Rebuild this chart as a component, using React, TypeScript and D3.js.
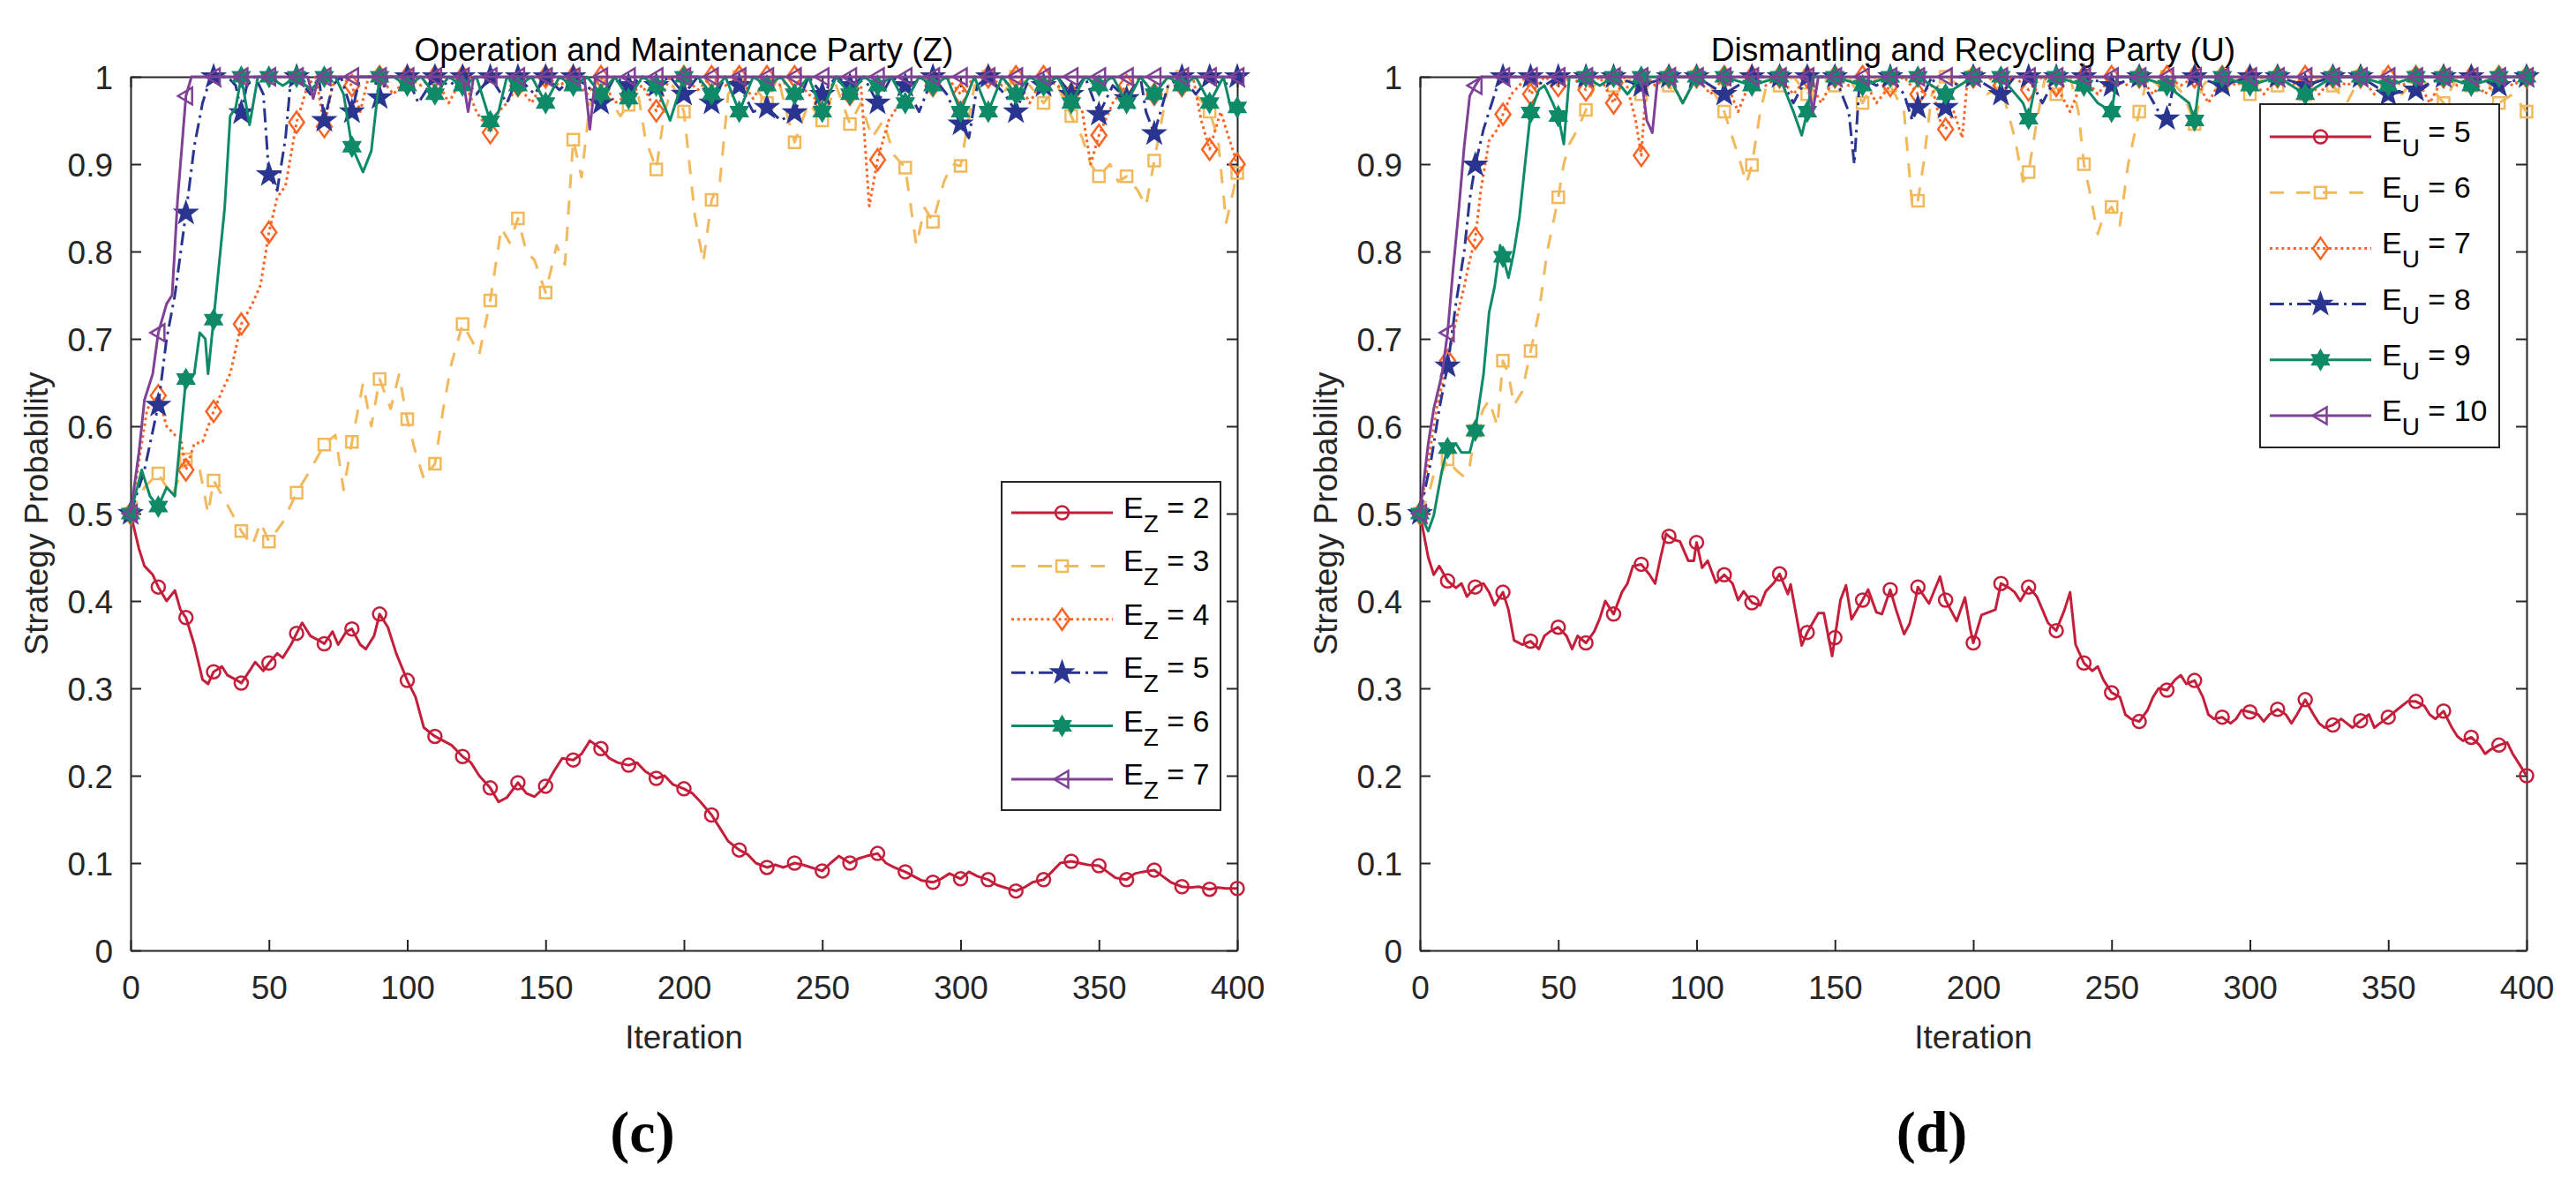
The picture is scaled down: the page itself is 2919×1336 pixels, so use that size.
import { useEffect, useRef } from "react"
import * as d3 from "d3"

type Pt = [number, number]

// axis ticks
const iterTicks = [0, 50, 100, 150, 200, 250, 300, 350, 400]
const probTicks = [0, 0.1, 0.2, 0.3, 0.4, 0.5, 0.6, 0.7, 0.8, 0.9, 1]
const probTickLabels = ["0", "0.1", "0.2", "0.3", "0.4", "0.5", "0.6", "0.7", "0.8", "0.9", "1"]

// (c) Operation and Maintenance Party (Z)
const zValues = ["2", "3", "4", "5", "6", "7"]

const ez2: Pt[] = [
  [0, 0.5], [3, 0.46], [5, 0.44], [8, 0.43], [10, 0.416], [13, 0.4], [16, 0.412], [18, 0.39], [20, 0.381],
  [23, 0.35], [26, 0.31], [28, 0.305], [30, 0.319], [33, 0.325], [35, 0.315], [38, 0.31], [40, 0.306],
  [43, 0.32], [45, 0.33], [48, 0.32], [50, 0.329], [53, 0.34], [55, 0.335], [58, 0.35], [60, 0.363],
  [62, 0.375], [65, 0.36], [68, 0.355], [70, 0.351], [73, 0.365], [75, 0.35], [78, 0.365], [80, 0.368],
  [83, 0.35], [85, 0.345], [88, 0.36], [90, 0.385], [93, 0.37], [96, 0.34], [100, 0.309], [103, 0.29],
  [106, 0.255], [110, 0.245], [113, 0.24], [116, 0.235], [120, 0.222], [123, 0.215], [126, 0.2], [130, 0.186],
  [133, 0.17], [136, 0.175], [140, 0.192], [143, 0.18], [146, 0.176], [150, 0.188], [153, 0.205], [156, 0.22],
  [160, 0.218], [163, 0.225], [166, 0.24], [170, 0.231], [173, 0.22], [176, 0.215], [180, 0.212], [183, 0.215],
  [186, 0.205], [190, 0.197], [193, 0.2], [196, 0.19], [200, 0.185], [203, 0.18], [206, 0.17], [210, 0.155],
  [213, 0.14], [216, 0.125], [220, 0.115], [223, 0.11], [226, 0.1], [230, 0.095], [233, 0.098], [236, 0.095],
  [240, 0.1], [243, 0.098], [246, 0.095], [250, 0.091], [253, 0.1], [256, 0.108], [260, 0.1], [263, 0.105],
  [266, 0.108], [270, 0.111], [273, 0.1], [276, 0.095], [280, 0.09], [283, 0.085], [286, 0.08], [290, 0.078],
  [293, 0.082], [296, 0.088], [300, 0.082], [303, 0.09], [306, 0.085], [310, 0.081], [313, 0.075], [316, 0.072],
  [320, 0.068], [323, 0.072], [326, 0.078], [330, 0.081], [333, 0.09], [336, 0.1], [340, 0.102], [343, 0.1],
  [346, 0.098], [350, 0.097], [353, 0.09], [356, 0.083], [360, 0.081], [363, 0.088], [366, 0.09], [370, 0.092],
  [373, 0.085], [376, 0.078], [380, 0.073], [383, 0.072], [386, 0.073], [390, 0.07], [393, 0.072], [396, 0.071],
  [400, 0.071],
]

const ez3: Pt[] = [
  [0, 0.5], [5, 0.53], [10, 0.546], [15, 0.52], [20, 0.562], [25, 0.55], [28, 0.5], [30, 0.538], [35, 0.51],
  [40, 0.48], [44, 0.463], [47, 0.49], [50, 0.468], [55, 0.49], [60, 0.524], [65, 0.55], [70, 0.579], [74, 0.59],
  [77, 0.527], [80, 0.582], [84, 0.649], [87, 0.6], [90, 0.654], [94, 0.62], [97, 0.659], [100, 0.608],
  [103, 0.57], [106, 0.54], [110, 0.557], [113, 0.62], [116, 0.672], [120, 0.717], [123, 0.7], [126, 0.682],
  [130, 0.744], [134, 0.827], [137, 0.81], [140, 0.838], [143, 0.8], [146, 0.79], [150, 0.753], [154, 0.807],
  [157, 0.785], [160, 0.928], [163, 0.885], [166, 0.97], [170, 0.99], [174, 0.97], [177, 0.955], [180, 0.968],
  [183, 0.99], [186, 0.93], [190, 0.894], [193, 0.96], [196, 0.99], [200, 0.96], [204, 0.84], [207, 0.788],
  [210, 0.859], [213, 0.88], [216, 0.98], [220, 1], [225, 0.99], [230, 0.97], [234, 1], [237, 0.96],
  [240, 0.925], [245, 0.97], [250, 0.95], [255, 0.99], [260, 0.946], [264, 0.97], [268, 0.93], [272, 0.95],
  [276, 0.91], [280, 0.896], [284, 0.807], [287, 0.85], [290, 0.834], [294, 0.88], [297, 0.9], [300, 0.898],
  [305, 0.99], [310, 1], [315, 0.98], [320, 1], [325, 0.99], [330, 0.97], [335, 0.99], [340, 0.955],
  [344, 0.93], [347, 0.9], [350, 0.886], [354, 0.9], [357, 0.88], [360, 0.886], [364, 0.87], [367, 0.852],
  [370, 0.904], [375, 0.99], [380, 1], [385, 0.98], [390, 0.96], [393, 0.93], [396, 0.833], [400, 0.89],
]

const ez4: Pt[] = [
  [0, 0.5], [3, 0.56], [6, 0.62], [10, 0.635], [13, 0.6], [16, 0.59], [18, 0.588], [20, 0.55], [23, 0.58],
  [26, 0.582], [30, 0.617], [33, 0.64], [36, 0.66], [40, 0.717], [44, 0.74], [47, 0.762], [50, 0.822],
  [53, 0.862], [56, 0.875], [60, 0.948], [64, 0.99], [67, 1], [70, 0.943], [73, 0.99], [76, 1], [80, 0.99],
  [83, 0.96], [86, 1], [90, 1], [95, 0.98], [100, 1], [105, 0.99], [110, 1], [115, 0.97], [120, 1], [125, 0.96],
  [130, 0.936], [133, 0.96], [136, 0.97], [140, 0.99], [145, 0.97], [150, 1], [155, 0.99], [160, 1], [165, 0.98],
  [170, 1], [175, 0.97], [180, 0.98], [185, 0.99], [190, 0.961], [195, 1], [200, 1], [205, 0.985], [210, 1],
  [215, 0.99], [220, 1], [225, 0.975], [230, 1], [235, 0.99], [240, 1], [245, 0.98], [250, 0.97], [255, 1],
  [260, 0.98], [264, 0.99], [267, 0.852], [270, 0.905], [274, 0.95], [278, 0.97], [282, 0.99], [286, 1],
  [290, 0.99], [295, 1], [300, 0.98], [305, 1], [310, 1], [315, 0.99], [320, 1], [325, 0.97], [330, 1],
  [335, 0.99], [340, 0.98], [344, 0.96], [347, 0.9], [350, 0.933], [355, 0.97], [360, 0.99], [365, 1],
  [370, 0.98], [375, 1], [380, 0.99], [384, 1], [387, 0.95], [390, 0.917], [394, 0.96], [400, 0.9],
]

const ez5: Pt[] = [
  [0, 0.5], [5, 0.55], [10, 0.624], [13, 0.7], [16, 0.75], [20, 0.844], [23, 0.92], [26, 0.97], [29, 1],
  [30, 1], [35, 1], [38, 0.99], [40, 0.959], [42, 0.99], [45, 1], [48, 0.98], [50, 0.888], [53, 0.87],
  [56, 0.93], [58, 1], [60, 1], [65, 0.98], [68, 1], [70, 0.95], [73, 0.99], [76, 1], [80, 0.96], [83, 1],
  [88, 1], [90, 0.976], [93, 1], [100, 1], [104, 0.97], [110, 1], [115, 0.99], [120, 1], [125, 0.98], [130, 1],
  [136, 0.97], [140, 1], [146, 0.98], [150, 1], [155, 0.985], [160, 1], [165, 0.99], [170, 0.97], [175, 1],
  [180, 0.99], [185, 1], [190, 0.99], [195, 1], [200, 0.98], [205, 1], [210, 0.97], [215, 1], [220, 0.99],
  [225, 0.96], [230, 0.965], [235, 0.95], [240, 0.959], [245, 1], [250, 0.98], [255, 1], [260, 0.99], [265, 1],
  [270, 0.97], [275, 1], [280, 0.99], [285, 0.96], [290, 1], [295, 0.98], [300, 0.946], [303, 0.93],
  [306, 0.99], [310, 1], [316, 0.98], [320, 0.96], [325, 1], [330, 0.99], [335, 1], [340, 0.98], [345, 1],
  [350, 0.957], [355, 0.99], [360, 0.975], [365, 1], [367, 0.96], [370, 0.935], [375, 0.99], [380, 1],
  [385, 0.98], [390, 1], [395, 0.99], [400, 1],
]

const ez6: Pt[] = [
  [0, 0.5], [4, 0.55], [7, 0.52], [10, 0.508], [13, 0.53], [16, 0.52], [20, 0.654], [23, 0.66], [25, 0.707],
  [27, 0.7], [28, 0.66], [30, 0.722], [34, 0.85], [36, 0.955], [38, 0.965], [40, 1], [43, 0.945], [46, 1],
  [50, 1], [55, 0.99], [60, 1], [65, 0.985], [70, 1], [74, 1], [77, 0.98], [80, 0.92], [84, 0.891], [87, 0.915],
  [90, 1], [95, 1], [100, 0.99], [105, 1], [110, 0.98], [115, 1], [120, 0.99], [125, 1], [130, 0.949],
  [133, 0.96], [136, 1], [140, 0.99], [145, 1], [150, 0.97], [155, 1], [160, 0.99], [165, 1], [170, 0.98],
  [175, 1], [180, 0.975], [185, 1], [190, 0.99], [195, 0.95], [200, 1], [205, 1], [210, 0.98], [215, 1],
  [220, 0.96], [225, 1], [230, 0.99], [235, 1], [240, 0.98], [245, 1], [250, 0.96], [255, 1], [260, 0.98],
  [265, 1], [270, 0.99], [275, 1], [280, 0.97], [285, 1], [290, 0.99], [295, 1], [300, 0.96], [305, 1],
  [310, 0.96], [315, 1], [320, 0.98], [325, 1], [330, 0.99], [335, 1], [340, 0.97], [345, 1], [350, 0.99],
  [355, 1], [360, 0.97], [365, 1], [370, 0.98], [375, 1], [380, 0.99], [385, 1], [390, 0.97], [395, 1],
  [398, 0.96], [400, 0.965],
]

const ez7: Pt[] = [
  [0, 0.5], [3, 0.57], [5, 0.63], [8, 0.66], [10, 0.707], [13, 0.74], [15, 0.75], [17, 0.86], [20, 0.978],
  [22, 1], [30, 1], [40, 1], [50, 1], [60, 1], [64, 1], [66, 0.975], [68, 1], [70, 1], [80, 1], [90, 1],
  [100, 1], [110, 1], [120, 1], [122, 0.96], [124, 1], [130, 1], [140, 1], [150, 1], [160, 1], [164, 1],
  [166, 0.94], [168, 1], [170, 1], [180, 1], [190, 1], [200, 1], [210, 1], [220, 1], [230, 1], [240, 1],
  [250, 1], [260, 1], [270, 1], [280, 1], [290, 1], [300, 1], [310, 1], [320, 1], [330, 1], [340, 1],
  [350, 1], [360, 1], [370, 1], [380, 1], [390, 1], [400, 1],
]

// (d) Dismantling and Recycling Party (U)
const uValues = ["5", "6", "7", "8", "9", "10"]

const eu5: Pt[] = [
  [0, 0.5], [3, 0.45], [5, 0.43], [7, 0.44], [10, 0.423], [13, 0.415], [15, 0.42], [17, 0.405], [20, 0.416],
  [23, 0.42], [25, 0.41], [27, 0.395], [30, 0.41], [32, 0.39], [34, 0.355], [37, 0.35], [40, 0.354],
  [43, 0.345], [45, 0.36], [47, 0.365], [50, 0.37], [53, 0.36], [55, 0.345], [57, 0.36], [60, 0.352],
  [63, 0.365], [65, 0.38], [67, 0.4], [70, 0.385], [73, 0.41], [75, 0.42], [77, 0.44], [80, 0.442],
  [83, 0.43], [85, 0.42], [87, 0.45], [89, 0.477], [90, 0.474], [92, 0.47], [94, 0.468], [97, 0.446],
  [99, 0.446], [100, 0.467], [102, 0.438], [104, 0.446], [107, 0.421], [110, 0.43], [113, 0.42], [115, 0.401],
  [117, 0.411], [120, 0.398], [123, 0.395], [125, 0.411], [128, 0.421], [130, 0.431], [133, 0.408],
  [134, 0.419], [138, 0.349], [140, 0.364], [144, 0.386], [146, 0.386], [149, 0.337], [150, 0.358],
  [152, 0.401], [154, 0.418], [156, 0.379], [160, 0.401], [162, 0.413], [165, 0.387], [167, 0.385],
  [170, 0.413], [172, 0.391], [175, 0.362], [177, 0.374], [179, 0.4], [180, 0.416], [184, 0.397], [188, 0.428],
  [190, 0.401], [194, 0.377], [197, 0.404], [199, 0.367], [200, 0.352], [203, 0.384], [208, 0.39], [210, 0.42],
  [213, 0.415], [215, 0.41], [217, 0.4], [220, 0.416], [223, 0.405], [225, 0.39], [227, 0.375], [230, 0.366],
  [233, 0.39], [235, 0.41], [237, 0.35], [240, 0.329], [243, 0.32], [245, 0.325], [247, 0.31], [250, 0.295],
  [253, 0.29], [255, 0.27], [257, 0.265], [260, 0.262], [263, 0.275], [265, 0.29], [267, 0.3], [270, 0.298],
  [273, 0.31], [275, 0.315], [277, 0.305], [280, 0.309], [283, 0.29], [285, 0.27], [287, 0.265], [290, 0.267],
  [293, 0.26], [295, 0.265], [297, 0.275], [300, 0.273], [303, 0.27], [305, 0.262], [307, 0.27], [310, 0.276],
  [313, 0.27], [315, 0.26], [317, 0.27], [320, 0.287], [323, 0.27], [325, 0.26], [327, 0.255], [330, 0.258],
  [333, 0.265], [335, 0.26], [337, 0.255], [340, 0.263], [343, 0.27], [345, 0.255], [347, 0.26], [350, 0.267],
  [353, 0.275], [355, 0.28], [357, 0.285], [360, 0.285], [363, 0.28], [365, 0.27], [367, 0.265], [370, 0.274],
  [373, 0.255], [375, 0.245], [377, 0.24], [380, 0.244], [383, 0.235], [385, 0.225], [387, 0.23], [390, 0.235],
  [393, 0.238], [395, 0.225], [397, 0.215], [400, 0.2],
]

const eu6: Pt[] = [
  [0, 0.5], [3, 0.52], [5, 0.545], [7, 0.54], [10, 0.562], [13, 0.55], [16, 0.542], [18, 0.555], [20, 0.595],
  [23, 0.62], [25, 0.63], [28, 0.6], [30, 0.675], [32, 0.66], [34, 0.624], [37, 0.64], [40, 0.686], [43, 0.73],
  [46, 0.8], [48, 0.83], [50, 0.862], [52, 0.9], [54, 0.923], [57, 0.94], [60, 0.962], [63, 0.99], [66, 1],
  [70, 0.99], [75, 1], [80, 0.98], [85, 1], [90, 0.99], [95, 0.97], [100, 1], [105, 0.99], [110, 0.96],
  [113, 0.93], [116, 0.9], [118, 0.878], [120, 0.899], [123, 0.96], [126, 1], [130, 0.99], [135, 1],
  [140, 0.98], [145, 1], [150, 0.99], [155, 1], [160, 0.97], [165, 1], [170, 0.99], [175, 0.96], [178, 0.85],
  [180, 0.858], [182, 0.9], [185, 0.98], [190, 1], [195, 0.99], [200, 1], [205, 0.98], [210, 0.99], [215, 0.93],
  [218, 0.88], [220, 0.891], [223, 0.95], [226, 1], [230, 0.98], [235, 1], [238, 0.96], [240, 0.9], [242, 0.87],
  [245, 0.82], [247, 0.84], [250, 0.851], [253, 0.83], [256, 0.9], [258, 0.93], [260, 0.96], [263, 1],
  [267, 0.99], [270, 1], [276, 0.98], [280, 0.946], [283, 0.99], [286, 1], [290, 0.99], [295, 1], [300, 0.98],
  [305, 1], [310, 0.99], [315, 1], [320, 0.98], [325, 1], [330, 0.99], [335, 0.97], [340, 1], [345, 0.99],
  [350, 1], [355, 0.98], [360, 1], [365, 0.99], [370, 0.97], [375, 1], [380, 0.99], [385, 1], [390, 0.97],
  [395, 0.98], [400, 0.96],
]

const eu7: Pt[] = [
  [0, 0.5], [3, 0.56], [6, 0.62], [10, 0.675], [13, 0.72], [16, 0.76], [18, 0.79], [20, 0.815], [22, 0.87],
  [25, 0.927], [28, 0.94], [30, 0.957], [33, 0.98], [36, 0.99], [38, 1], [40, 0.98], [45, 1], [50, 0.99],
  [55, 1], [60, 0.985], [65, 1], [70, 0.97], [74, 1], [78, 0.95], [80, 0.91], [82, 1], [85, 0.99], [90, 1],
  [95, 0.97], [100, 1], [105, 0.98], [110, 1], [115, 0.96], [120, 1], [125, 0.99], [130, 1], [135, 0.98],
  [140, 1], [145, 0.97], [150, 1], [155, 0.99], [160, 1], [165, 0.97], [170, 0.99], [175, 1], [180, 0.98],
  [185, 0.99], [188, 0.95], [190, 0.94], [193, 0.96], [196, 0.93], [198, 1], [200, 1], [205, 1], [210, 0.99],
  [215, 1], [220, 0.985], [225, 1], [230, 0.99], [235, 0.96], [240, 1], [245, 0.98], [250, 1], [255, 0.99],
  [260, 1], [265, 0.98], [270, 1], [275, 0.99], [280, 1], [285, 0.97], [290, 1], [295, 0.99], [300, 1],
  [305, 0.98], [310, 1], [315, 0.99], [320, 1], [325, 0.98], [330, 1], [335, 0.99], [340, 1], [345, 0.98],
  [350, 1], [355, 0.99], [360, 1], [365, 0.97], [370, 1], [375, 0.99], [380, 1], [385, 0.98], [390, 1],
  [395, 0.99], [400, 1],
]

const eu8: Pt[] = [
  [0, 0.5], [4, 0.56], [7, 0.62], [10, 0.669], [13, 0.74], [16, 0.8], [18, 0.86], [20, 0.899], [23, 0.94],
  [26, 0.97], [28, 0.99], [30, 1], [40, 1], [45, 0.99], [50, 1], [60, 1], [70, 1], [80, 0.99], [90, 1],
  [100, 1], [110, 0.98], [120, 1], [130, 1], [135, 0.97], [140, 1], [150, 1], [155, 0.96], [157, 0.9],
  [159, 1], [165, 0.99], [170, 1], [175, 0.98], [178, 0.95], [180, 0.965], [185, 1], [190, 0.965], [195, 1],
  [200, 1], [210, 0.98], [215, 1], [220, 1], [225, 0.97], [230, 1], [240, 1], [250, 0.99], [260, 1],
  [267, 0.96], [270, 0.952], [273, 1], [280, 1], [290, 0.99], [300, 1], [310, 1], [320, 0.99], [330, 1],
  [340, 1], [350, 0.98], [360, 0.985], [370, 1], [380, 1], [390, 0.99], [400, 1],
]

const eu9: Pt[] = [
  [0, 0.5], [3, 0.48], [5, 0.498], [8, 0.55], [10, 0.575], [13, 0.58], [15, 0.57], [18, 0.57], [20, 0.595],
  [23, 0.66], [25, 0.73], [27, 0.76], [29, 0.807], [30, 0.794], [32, 0.77], [34, 0.8], [36, 0.84], [38, 0.9],
  [40, 0.959], [43, 0.985], [45, 0.99], [48, 0.97], [50, 0.955], [52, 0.923], [54, 1], [60, 1], [65, 0.99],
  [70, 1], [75, 0.98], [80, 1], [90, 1], [95, 0.97], [100, 1], [110, 1], [120, 0.99], [130, 1], [135, 0.96],
  [138, 0.933], [140, 0.96], [142, 1], [150, 1], [160, 0.99], [170, 1], [180, 1], [190, 0.98], [200, 1],
  [210, 1], [218, 0.97], [220, 0.952], [223, 1], [230, 1], [240, 0.99], [245, 0.97], [250, 0.96], [252, 1],
  [260, 1], [270, 0.99], [278, 0.97], [280, 0.95], [282, 1], [290, 1], [300, 0.99], [310, 1], [320, 0.98],
  [330, 1], [340, 1], [350, 0.99], [360, 1], [370, 1], [380, 0.99], [390, 1], [400, 1],
]

const eu10: Pt[] = [
  [0, 0.5], [3, 0.58], [5, 0.62], [8, 0.66], [10, 0.707], [12, 0.78], [14, 0.846], [16, 0.92], [18, 0.978],
  [20, 0.99], [22, 1], [30, 1], [40, 1], [50, 1], [60, 1], [70, 1], [80, 1], [82, 0.95], [84, 0.936], [86, 1],
  [90, 1], [100, 1], [110, 1], [120, 1], [130, 1], [140, 1], [142, 0.96], [144, 1], [150, 1], [160, 1],
  [170, 1], [180, 1], [190, 1], [200, 1], [210, 1], [220, 1], [230, 1], [240, 1], [250, 1], [260, 1],
  [270, 1], [280, 1], [290, 1], [300, 1], [310, 1], [320, 1], [330, 1], [340, 1], [350, 1], [360, 1],
  [370, 1], [380, 1], [390, 1], [400, 1],
]

// --- styles / layout ---
const FONT = "'Liberation Sans', Arial, Helvetica, sans-serif"
const AXIS_COLOR = "#262626"
const PLOT_TOP = 87
const PLOT_BOTTOM = 1077
const PLOT_W = 1254
const LINE_W = 3

type MarkerKind = "circle" | "square" | "diamond" | "pentagram" | "hexagram" | "triangleLeft"

const seriesStyles: { color: string; dash: string | null; marker: MarkerKind; filled: boolean }[] = [
  { color: "#c41e3a", dash: null, marker: "circle", filled: false },
  { color: "#f2b95c", dash: "16,14", marker: "square", filled: false },
  { color: "#fa6424", dash: "3,3.7", marker: "diamond", filled: false },
  { color: "#2a3590", dash: "16,6,3,6", marker: "pentagram", filled: true },
  { color: "#0f8a68", dash: null, marker: "hexagram", filled: true },
  { color: "#7f4196", dash: null, marker: "triangleLeft", filled: false },
]

function markerPath(kind: MarkerKind): string {
  const star = (n: number, R: number, r: number) => {
    const pts: string[] = []
    for (let k = 0; k < n * 2; k++) {
      const a = ((-90 + (k * 180) / n) * Math.PI) / 180
      const rad = k % 2 === 0 ? R : r
      pts.push(`${(rad * Math.cos(a)).toFixed(2)},${(rad * Math.sin(a)).toFixed(2)}`)
    }
    return "M" + pts.join("L") + "Z"
  }
  switch (kind) {
    case "circle":
      return "M7.5,0A7.5,7.5 0 1,1 -7.5,0A7.5,7.5 0 1,1 7.5,0Z"
    case "square":
      return "M-6.5,-6.5H6.5V6.5H-6.5Z"
    case "diamond":
      return "M0,-12L8.5,0L0,12L-8.5,0Z"
    case "pentagram":
      return star(5, 12, 4.8)
    case "hexagram":
      return star(6, 10.5, 6.06)
    case "triangleLeft":
      return "M-9,0L7,-9.5L7,9.5Z"
  }
}

type Panel = {
  left: number
  title: string
  sub: string
  values: string[]
  series: Pt[][]
  legend: { x: number; y: number; w: number; h: number; row0: number; step: number; lx1: number; lx2: number; tx: number }
}

const panels: Panel[] = [
  {
    left: 148,
    title: "Operation and Maintenance Party (Z)",
    sub: "Z",
    values: zValues,
    series: [ez2, ez3, ez4, ez5, ez6, ez7],
    legend: { x: 1135, y: 546, w: 248, h: 372, row0: 581, step: 60.4, lx1: 1146, lx2: 1261, tx: 1273 },
  },
  {
    left: 1609,
    title: "Dismantling and Recycling Party (U)",
    sub: "U",
    values: uValues,
    series: [eu5, eu6, eu7, eu8, eu9, eu10],
    legend: { x: 2561, y: 118, w: 271, h: 389, row0: 155, step: 63.2, lx1: 2572, lx2: 2687, tx: 2699 },
  },
]

const captions = ["(c)", "(d)"]

function drawMarker(
  sel: d3.Selection<SVGPathElement, any, any, any>,
  st: (typeof seriesStyles)[0],
) {
  sel
    .attr("d", markerPath(st.marker))
    .attr("fill", st.filled ? st.color : "none")
    .attr("stroke", st.color)
    .attr("stroke-width", 2.5)
    .attr("stroke-linejoin", "miter")
}

function drawPanel(svg: d3.Selection<SVGSVGElement, unknown, null, undefined>, p: Panel, caption: string) {
  const x = d3.scaleLinear().domain([0, 400]).range([p.left, p.left + PLOT_W])
  const y = d3.scaleLinear().domain([0, 1]).range([PLOT_BOTTOM, PLOT_TOP])
  const g = svg.append("g")

  const styleAxis = (a: d3.Selection<SVGGElement, unknown, null, undefined>) => {
    a.attr("font-family", FONT).attr("font-size", 37)
    a.selectAll("path, line").attr("stroke", AXIS_COLOR).attr("stroke-width", 2)
    a.selectAll("text").attr("fill", AXIS_COLOR)
  }

  // box + ticks (all inward)
  const bottom = g
    .append("g")
    .attr("transform", `translate(0,${PLOT_BOTTOM})`)
    .call(d3.axisBottom(x).tickValues(iterTicks).tickSizeInner(-12).tickSizeOuter(0).tickPadding(29))
  styleAxis(bottom)

  const leftAx = g
    .append("g")
    .attr("transform", `translate(${p.left},0)`)
    .call(
      d3
        .axisLeft(y)
        .tickValues(probTicks)
        .tickSizeInner(-12)
        .tickSizeOuter(0)
        .tickPadding(20)
        .tickFormat((_d, i) => probTickLabels[i]),
    )
  styleAxis(leftAx)
  leftAx.selectAll("text").attr("dy", "0.37em")

  const topAx = g
    .append("g")
    .attr("transform", `translate(0,${PLOT_TOP})`)
    .call(d3.axisTop(x).tickValues(iterTicks).tickSizeInner(-12).tickSizeOuter(0).tickFormat(() => ""))
  styleAxis(topAx)

  const rightAx = g
    .append("g")
    .attr("transform", `translate(${p.left + PLOT_W},0)`)
    .call(d3.axisRight(y).tickValues(probTicks).tickSizeInner(-12).tickSizeOuter(0).tickFormat(() => ""))
  styleAxis(rightAx)

  // labels
  const cx = p.left + PLOT_W / 2
  g.append("text")
    .attr("x", cx)
    .attr("y", 69)
    .attr("text-anchor", "middle")
    .attr("font-family", FONT)
    .attr("font-size", 37)
    .attr("fill", "#000")
    .text(p.title)

  g.append("text")
    .attr("x", cx)
    .attr("y", 1188)
    .attr("text-anchor", "middle")
    .attr("font-family", FONT)
    .attr("font-size", 37)
    .attr("fill", AXIS_COLOR)
    .text("Iteration")

  g.append("text")
    .attr("transform", `translate(${p.left - 94},${(PLOT_TOP + PLOT_BOTTOM) / 2}) rotate(-90)`)
    .attr("text-anchor", "middle")
    .attr("font-family", FONT)
    .attr("font-size", 37)
    .attr("fill", AXIS_COLOR)
    .text("Strategy Probability")

  g.append("text")
    .attr("x", cx - 47)
    .attr("y", 1305)
    .attr("text-anchor", "middle")
    .attr("font-family", "'Liberation Serif', 'DejaVu Serif', serif")
    .attr("font-weight", "bold")
    .attr("font-size", 66)
    .attr("fill", "#000")
    .text(caption)

  // series
  const line = d3
    .line<Pt>()
    .x((d) => x(d[0]))
    .y((d) => y(d[1]))

  p.series.forEach((data, i) => {
    const st = seriesStyles[i]
    const sg = g.append("g")
    sg.append("path")
      .datum(data)
      .attr("fill", "none")
      .attr("stroke", st.color)
      .attr("stroke-width", LINE_W)
      .attr("stroke-linejoin", "round")
      .attr("stroke-dasharray", st.dash)
      .attr("d", line)
    sg.selectAll<SVGPathElement, Pt>("path.mk")
      .data(data.filter((d) => d[0] % 10 === 0))
      .join("path")
      .attr("class", "mk")
      .attr("transform", (d) => `translate(${x(d[0])},${y(d[1])})`)
      .call((s) => drawMarker(s, st))
  })

  // legend
  const L = p.legend
  const lg = g.append("g")
  lg.append("rect")
    .attr("x", L.x)
    .attr("y", L.y)
    .attr("width", L.w)
    .attr("height", L.h)
    .attr("fill", "#fff")
    .attr("stroke", AXIS_COLOR)
    .attr("stroke-width", 2)

  p.values.forEach((v, i) => {
    const st = seriesStyles[i]
    const ry = L.row0 + i * L.step
    lg.append("line")
      .attr("x1", L.lx1)
      .attr("x2", L.lx2)
      .attr("y1", ry)
      .attr("y2", ry)
      .attr("stroke", st.color)
      .attr("stroke-width", LINE_W)
      .attr("stroke-dasharray", st.dash)
    lg.append("path")
      .attr("transform", `translate(${(L.lx1 + L.lx2) / 2},${ry})`)
      .call((s) => drawMarker(s, st))
    const t = lg
      .append("text")
      .attr("x", L.tx)
      .attr("y", ry + 6)
      .attr("font-family", FONT)
      .attr("font-size", 34)
      .attr("fill", "#000")
    t.append("tspan").text("E")
    t.append("tspan").attr("font-size", 28).attr("dy", 16).text(p.sub)
    t.append("tspan").attr("dy", -16).text(` = ${v}`)
  })
}

export default function App() {
  const svgRef = useRef<SVGSVGElement>(null)

  useEffect(() => {
    if (!svgRef.current) return
    const svg = d3.select(svgRef.current)
    svg.selectAll("*").remove()
    panels.forEach((p, i) => drawPanel(svg, p, captions[i]))
  }, [])

  return (
    <div style={{ position: "absolute", left: 0, top: 0 }}>
      <svg ref={svgRef} width={2919} height={1336} style={{ display: "block", background: "#fff" }} />
    </div>
  )
}
